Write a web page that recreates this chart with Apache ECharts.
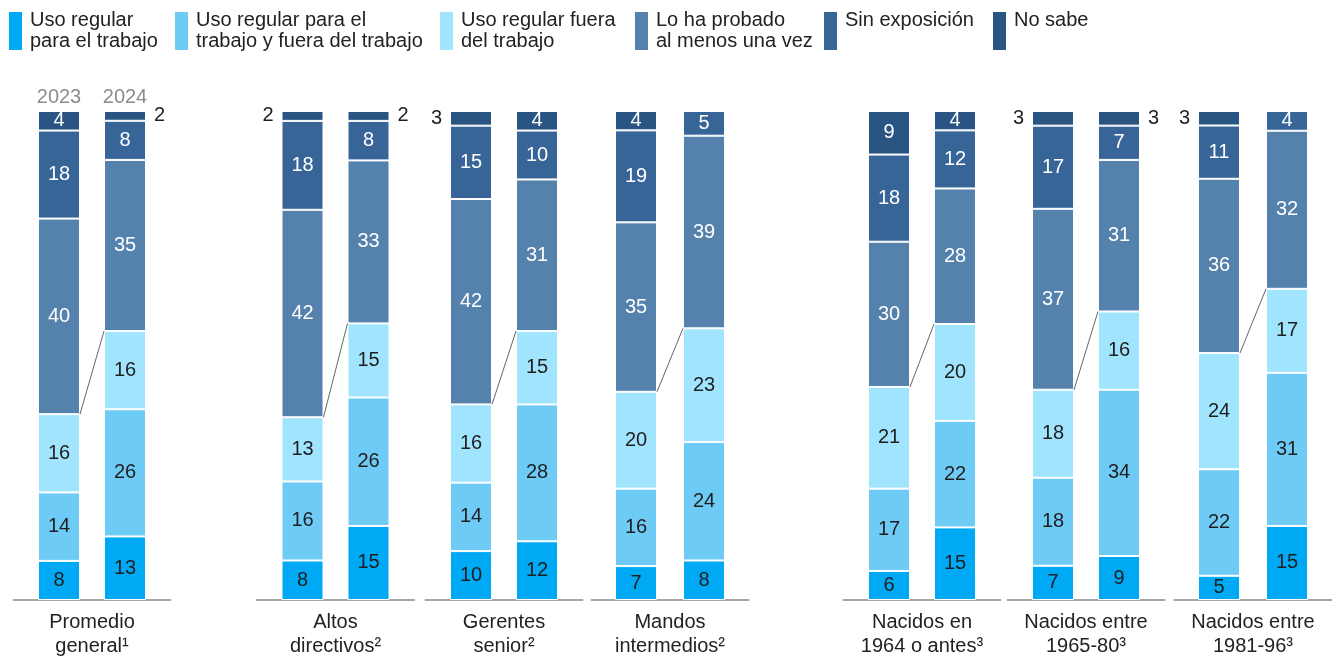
<!DOCTYPE html>
<html>
<head>
<meta charset="utf-8">
<script src="https://cdn.jsdelivr.net/npm/echarts@6/dist/echarts.min.js"></script>
<style>
  html, body { margin: 0; padding: 0; background: #fff; }
  #chart { width: 1340px; height: 658px; }
</style>
</head>
<body>
<div id="chart"></div>
<script>
// Groups along the x axis (superscripts refer to footnotes)
const groups = [
  'Promedio\ngeneral¹',
  'Altos\ndirectivos²',
  'Gerentes\nsenior²',
  'Mandos\nintermedios²',
  'Nacidos en\n1964 o antes³',
  'Nacidos entre\n1965-80³',
  'Nacidos entre\n1981-96³'
];
const years = ['2023', '2024'];

// Segment names, bottom to top
const segments = [
  'Uso regular para el trabajo',
  'Uso regular para el trabajo y fuera del trabajo',
  'Uso regular fuera del trabajo',
  'Lo ha probado al menos una vez',
  'Sin exposición',
  'No sabe'
];
const legendText = [
  'Uso regular\npara el trabajo',
  'Uso regular para el\ntrabajo y fuera del trabajo',
  'Uso regular fuera\ndel trabajo',
  'Lo ha probado\nal menos una vez',
  'Sin exposición\n ',
  'No sabe\n '
];

// Percentages per group (same order as groups)
const usoTrabajo2023 = [8, 8, 10, 7, 6, 7, 5];
const usoTrabajo2024 = [13, 15, 12, 8, 15, 9, 15];
const usoAmbos2023   = [14, 16, 14, 16, 17, 18, 22];
const usoAmbos2024   = [26, 26, 28, 24, 22, 34, 31];
const usoFuera2023   = [16, 13, 16, 20, 21, 18, 24];
const usoFuera2024   = [16, 15, 15, 23, 20, 16, 17];
const probado2023    = [40, 42, 42, 35, 30, 37, 36];
const probado2024    = [35, 33, 31, 39, 28, 31, 32];
const sinExpo2023    = [18, 18, 15, 19, 18, 17, 11];
const sinExpo2024    = [8, 8, 10, 5, 12, 7, 4];
const noSabe2023     = [4, 2, 3, 4, 9, 3, 3];
const noSabe2024     = [2, 2, 4, null, 4, 3, null];

const segData = [
  [usoTrabajo2023, usoTrabajo2024],
  [usoAmbos2023, usoAmbos2024],
  [usoFuera2023, usoFuera2024],
  [probado2023, probado2024],
  [sinExpo2023, sinExpo2024],
  [noSabe2023, noSabe2024]
];

const colors = ['#00a9f4', '#6ecbf6', '#a0e5fd', '#5581ad', '#376598', '#2a5482'];
const labelColors = ['#1e1e1e', '#1e1e1e', '#1e1e1e', '#ffffff', '#ffffff', '#ffffff'];

// Layout
const FONT = 'Liberation Sans';
const barW = 42;
const barMid = [92, 335.5, 504, 670, 922, 1086, 1253];
const gapPx = [24, 24, 24, 26, 24, 24, 26];
const gridTop = 111, gridH = 489, gridW = 157;
const legendX = [9, 175, 440, 635, 824, 993];

function total(y, g) {
  let t = 0;
  segData.forEach(s => { if (s[y][g] != null) t += s[y][g]; });
  return t;
}
function share(s, y, g) {
  const v = segData[s][y][g];
  return v == null ? null : v / total(y, g) * 100;
}

const grid = [], xAxis = [], yAxis = [], series = [];

groups.forEach((name, g) => {
  grid.push({ left: barMid[g] - gridW / 2, width: gridW, top: gridTop, height: gridH });
  xAxis.push({
    type: 'category', gridIndex: g, data: [name],
    axisLine: { lineStyle: { color: '#a6a6a6', width: 2 } },
    axisTick: { show: false },
    axisLabel: { fontFamily: FONT, fontSize: 20, lineHeight: 24, color: '#222', margin: 10 }
  });
  yAxis.push({ type: 'value', gridIndex: g, min: 0, max: 100, show: false, splitLine: { show: false } });

  years.forEach((yr, y) => {
    segments.forEach((seg, s) => {
      const raw = segData[s][y][g];
      const small = raw != null && raw <= 3;
      series.push({
        type: 'bar', name: seg, xAxisIndex: g, yAxisIndex: g,
        stack: 'g' + g + '-' + yr,
        barWidth: barW, barGap: (gapPx[g] / barW * 100) + '%',
        itemStyle: { color: colors[s], borderColor: '#fff', borderWidth: 1 },
        emphasis: { disabled: true },
        data: [{
          value: share(s, y, g),
          label: {
            show: raw != null,
            formatter: String(raw),
            position: small ? (y === 0 ? 'left' : 'right') : 'inside',
            distance: 8,
            color: small ? '#1e1e1e' : labelColors[s],
            fontFamily: FONT, fontSize: 20,
            textBorderWidth: 0
          }
        }]
      });
    });
  });

  // Connector between the top of the regular-use segments of both years
  const cum = y => [0, 1, 2].reduce((a, s) => a + share(s, y, g), 0);
  const gap = gapPx[g];
  series.push({
    type: 'custom', xAxisIndex: g, yAxisIndex: g, silent: true, z: 5,
    data: [[0, cum(0), cum(1)]],
    encode: { x: 0, y: [1, 2] },
    renderItem: (params, api) => {
      const p1 = api.coord([api.value(0), api.value(1)]);
      const p2 = api.coord([api.value(0), api.value(2)]);
      return {
        type: 'line',
        shape: { x1: p1[0] - gap / 2, y1: p1[1], x2: p2[0] + gap / 2, y2: p2[1] },
        style: { stroke: '#666', lineWidth: 1 }
      };
    }
  });
});

// Year headings above the first group
series.push({
  type: 'custom', xAxisIndex: 0, yAxisIndex: 0, silent: true,
  data: [[0, 100]],
  encode: { x: 0, y: 1 },
  renderItem: (params, api) => {
    const p = api.coord([api.value(0), api.value(1)]);
    const off = (barW + gapPx[0]) / 2;
    return {
      type: 'group',
      children: years.map((yr, i) => ({
        type: 'text',
        x: p[0] + (i === 0 ? -off : off),
        y: p[1] - 14,
        style: {
          text: yr, fill: '#8c8c8c', fontFamily: FONT, fontSize: 20,
          align: 'center', verticalAlign: 'middle'
        }
      }))
    };
  }
});

const legend = segments.map((seg, i) => ({
  data: [seg],
  left: legendX[i], top: 10, padding: 0,
  icon: 'rect', itemWidth: 13, itemHeight: 38,
  selectedMode: false,
  itemStyle: { borderWidth: 0 },
  formatter: () => legendText[i],
  textStyle: { fontFamily: FONT, fontSize: 20, lineHeight: 21, color: '#222', padding: [0, 0, 0, 3] }
}));

const chart = echarts.init(document.getElementById('chart'), null, { renderer: 'canvas' });
chart.setOption({
  animation: false,
  backgroundColor: '#fff',
  textStyle: { fontFamily: FONT },
  legend, grid, xAxis, yAxis, series
});
</script>
</body>
</html>
